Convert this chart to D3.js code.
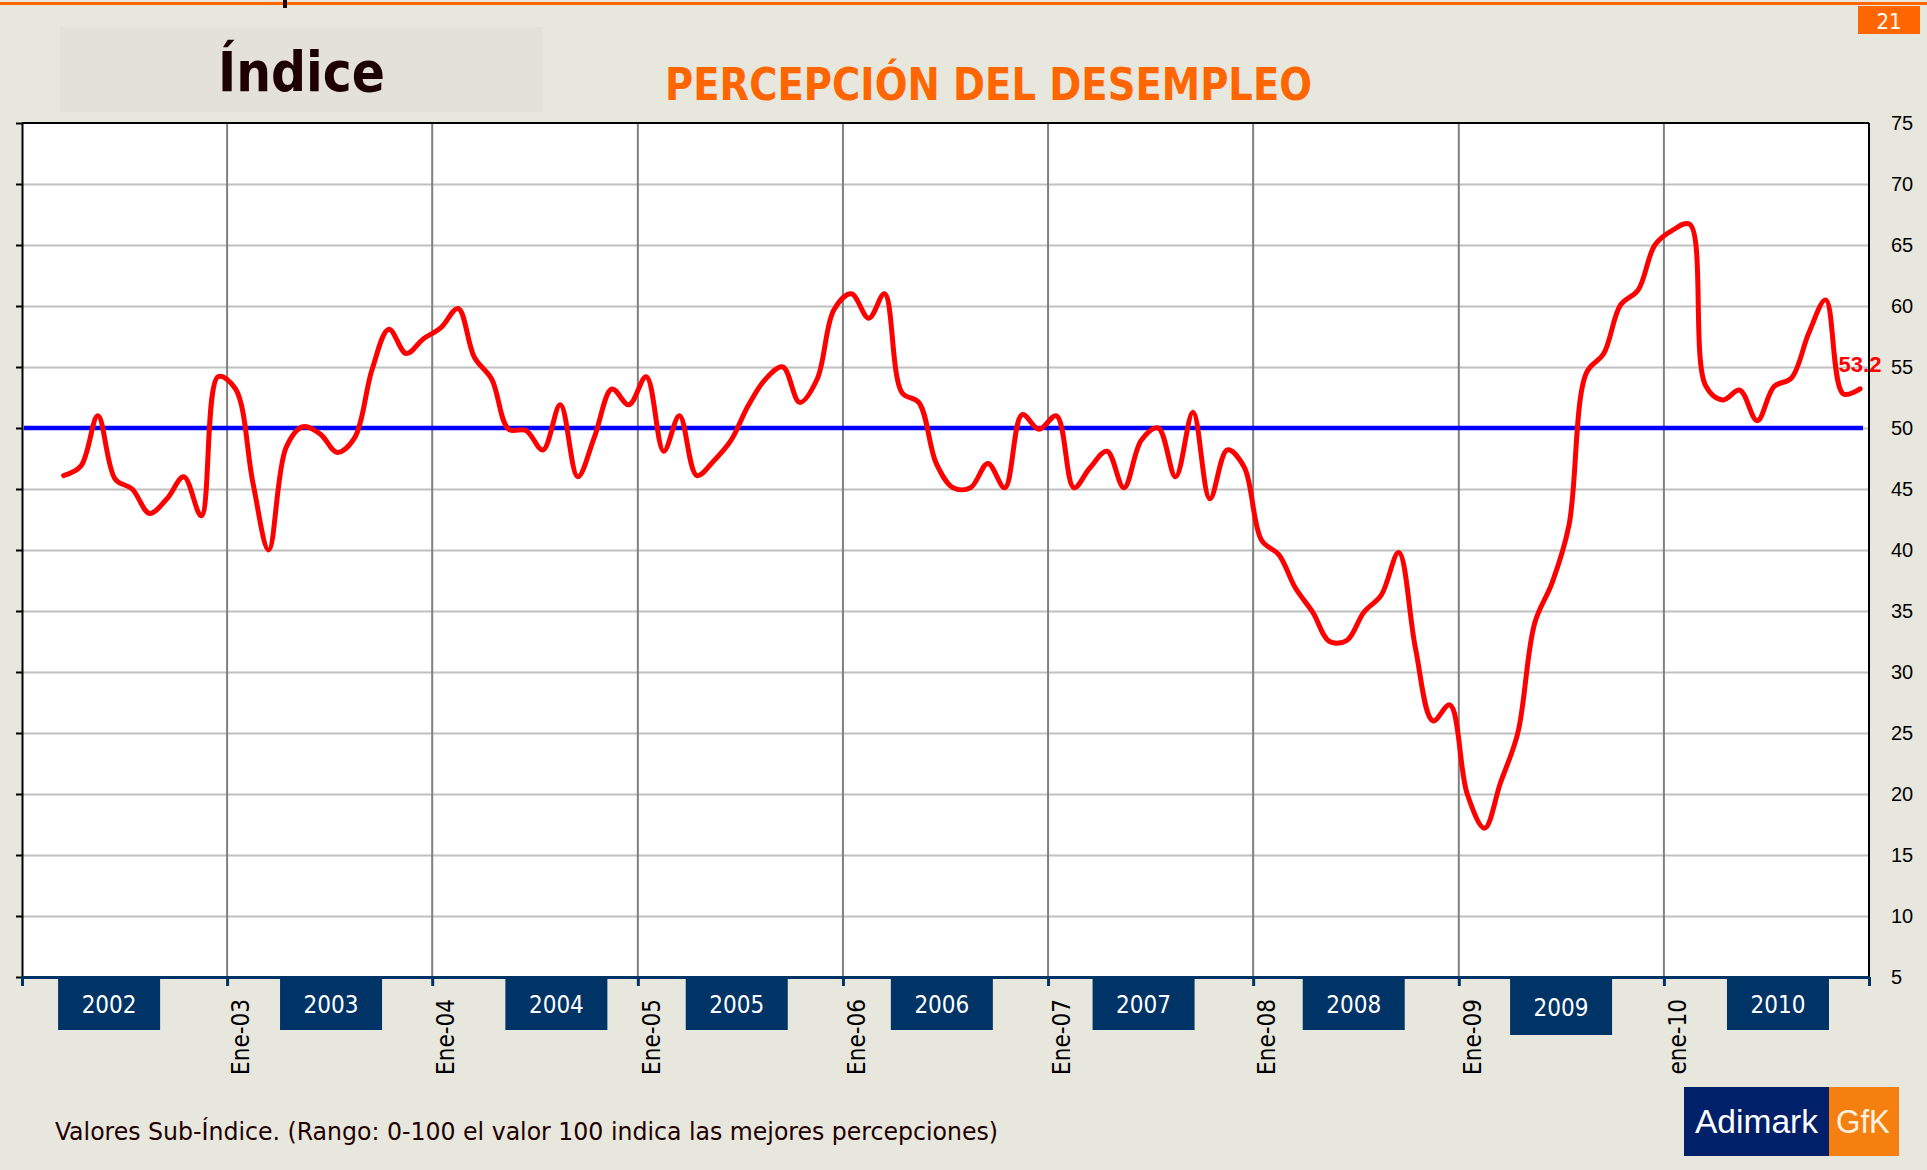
<!DOCTYPE html>
<html>
<head>
<meta charset="utf-8">
<script src="https://cdn.jsdelivr.net/npm/d3@7"></script>
<style>
    html, body { margin: 0; padding: 0; background: #e8e7de; }
    svg { display: block; }
</style>
</head>
<body>
<div id="chart"></div>
<script>
// Monthly sub-index values, Mar 2002 .. Dec 2010
const v2002 = [46.1, 46.9, 51.0, 45.8, 45.0, 43.0, 44.2, 46.0, 42.8, 54.2];   // Mar-Dec
const v2003 = [53.2, 45.5, 40.0, 48.4, 50.1, 49.5, 48.0, 49.2, 54.8, 58.1, 56.1, 57.3];
const v2004 = [58.2, 59.8, 55.8, 54.0, 49.9, 49.8, 48.2, 51.9, 46.0, 49.3, 53.2, 51.9];
const v2005 = [54.2, 48.1, 51.0, 46.1, 47.3, 49.0, 51.8, 54.0, 55.0, 52.1, 54.0, 59.7];
const v2006 = [61.0, 59.0, 61.0, 52.9, 52.1, 47.1, 45.1, 45.1, 47.1, 45.1, 51.1, 49.9];
const v2007 = [51.0, 45.1, 46.7, 48.1, 45.1, 49.0, 50.0, 46.0, 51.3, 44.2, 48.2, 46.8];
const v2008 = [40.8, 39.6, 36.9, 34.9, 32.5, 32.6, 34.9, 36.3, 39.8, 31.9, 26.0, 27.3];
const v2009 = [20.0, 17.2, 20.9, 25.0, 34.0, 37.3, 42.0, 54.5, 56.1, 60.1, 61.3, 65.0];
const v2010 = [66.2, 66.7, 53.5, 52.3, 53.1, 50.6, 53.4, 54.1, 57.8, 60.5, 52.8, 53.2];

const refValue = 50;   // neutral level (blue line)
const lastLabel = "53.2";

// tick labels under the year boundaries
const tickLabels = ["Ene-03", "Ene-04", "Ene-05", "Ene-06", "Ene-07", "Ene-08", "Ene-09", "ene-10"];
// year boxes and the month (inside the year) where each box is centred
const yearLabels = ["2002", "2003", "2004", "2005", "2006", "2007", "2008", "2009", "2010"];
const yearLabelMonth = [5.1, 6.1, 7.3, 5.8, 5.8, 5.6, 5.9, 6.0, 6.7];

const yTicks = d3.range(5, 76, 5);

// build dated series
const series = [];
[v2002, v2003, v2004, v2005, v2006, v2007, v2008, v2009, v2010].forEach((arr, yi) => {
    const startM = yi === 0 ? 2 : 0;
    arr.forEach((v, i) => series.push({ date: new Date(2002 + yi, startM + i, 16), value: v }));
});

const width = 1927, height = 1170;
const margin = { left: 22, right: 58, top: 123, bottom: 193 };
const navy = "#003366", orange = "#ff6600";

const svg = d3.select("#chart").append("svg")
    .attr("width", width)
    .attr("height", height);

svg.append("rect").attr("width", width).attr("height", height).attr("fill", "#e8e7de");

// top strip
svg.append("rect").attr("x", 0).attr("y", 2).attr("width", width).attr("height", 3).attr("fill", orange);
svg.append("rect").attr("x", 283).attr("y", 0).attr("width", 4).attr("height", 8).attr("fill", "#200000");
svg.append("rect").attr("x", 1858).attr("y", 6).attr("width", 62).attr("height", 28).attr("fill", orange);
svg.append("text")
    .attr("x", 1889).attr("y", 29)
    .attr("text-anchor", "middle")
    .attr("font-family", "'DejaVu Sans Condensed', 'DejaVu Sans', sans-serif")
    .attr("font-size", 22)
    .attr("fill", "white")
    .text("21");

// "Índice" box
svg.append("rect").attr("x", 60).attr("y", 27).attr("width", 482).attr("height", 85).attr("fill", "#e3e1da");
svg.append("text")
    .attr("x", 218).attr("y", 91)
    .attr("font-family", "'DejaVu Sans Condensed', 'DejaVu Sans', sans-serif")
    .attr("font-size", 56)
    .attr("font-weight", 700)
    .attr("fill", "#1f0000")
    .attr("textLength", 167)
    .attr("lengthAdjust", "spacingAndGlyphs")
    .text("Índice");

svg.append("text")
    .attr("x", 665).attr("y", 100)
    .attr("font-family", "'DejaVu Sans Condensed', 'DejaVu Sans', sans-serif")
    .attr("font-size", 44)
    .attr("font-weight", 700)
    .attr("fill", orange)
    .attr("textLength", 647)
    .attr("lengthAdjust", "spacingAndGlyphs")
    .text("PERCEPCIÓN DEL DESEMPLEO");

// scales
const x = d3.scaleTime()
    .domain([new Date(2002, 0, 1), new Date(2011, 0, 1)])
    .range([margin.left, width - margin.right]);
const y = d3.scaleLinear()
    .domain([5, 75])
    .range([height - margin.bottom, margin.top]);

const x0 = x.range()[0], x1 = x.range()[1];
const y0 = y.range()[0], y1 = y.range()[1];

// plot background
svg.append("rect")
    .attr("x", x0).attr("y", y1)
    .attr("width", x1 - x0).attr("height", y0 - y1)
    .attr("fill", "white");

// horizontal gridlines
svg.append("g")
    .attr("transform", `translate(${x0},0)`)
    .call(d3.axisLeft(y).tickValues(d3.range(10, 75, 5)).tickSize(-(x1 - x0)).tickFormat(""))
    .call(g => g.select(".domain").remove())
    .call(g => g.selectAll("line").attr("stroke", "#c0c0c0").attr("stroke-width", 2));

// vertical gridlines at year starts
const yearStarts = d3.timeYear.range(new Date(2003, 0, 1), new Date(2011, 0, 1));
svg.append("g")
    .selectAll("line")
    .data(yearStarts)
    .join("line")
    .attr("x1", d => x(d)).attr("x2", d => x(d))
    .attr("y1", y1).attr("y2", y0)
    .attr("stroke", "#808080")
    .attr("stroke-width", 2);

// frame: top, right, left axis
svg.append("line").attr("x1", x0).attr("x2", x1).attr("y1", y1).attr("y2", y1)
    .attr("stroke", "black").attr("stroke-width", 2);
svg.append("line").attr("x1", x1).attr("x2", x1).attr("y1", y1).attr("y2", y0)
    .attr("stroke", "black").attr("stroke-width", 2);

svg.append("g")
    .attr("transform", `translate(${x0},0)`)
    .call(d3.axisLeft(y).tickValues(yTicks).tickSize(6).tickSizeOuter(0).tickFormat(""))
    .call(g => g.selectAll("path, line").attr("stroke", "black").attr("stroke-width", 2));

// right value labels
svg.append("g")
    .attr("transform", `translate(${x1},0)`)
    .call(d3.axisRight(y).tickValues(yTicks).tickSize(0).tickPadding(22))
    .call(g => g.select(".domain").remove())
    .call(g => g.selectAll("text")
        .attr("font-family", "'Liberation Sans', Arial, sans-serif")
        .attr("font-size", 20)
        .attr("fill", "black"));

// year boxes under the axis
svg.append("g")
    .selectAll("rect")
    .data(yearLabels)
    .join("rect")
    .attr("x", (d, i) => x(new Date(2002 + i, 0, 1 + yearLabelMonth[i] * 30.4)) - 51)
    .attr("y", y0)
    .attr("width", 102)
    .attr("height", d => d === "2009" ? 58 : 53)
    .attr("fill", navy);

svg.append("g")
    .selectAll("text")
    .data(yearLabels)
    .join("text")
    .attr("x", (d, i) => x(new Date(2002 + i, 0, 1 + yearLabelMonth[i] * 30.4)))
    .attr("y", (d) => d === "2009" ? 1016 : 1013)
    .attr("text-anchor", "middle")
    .attr("font-family", "'DejaVu Sans Condensed', 'DejaVu Sans', sans-serif")
    .attr("font-size", 24)
    .attr("fill", "white")
    .text(d => d);

// bottom axis (navy) with ticks at each January
svg.append("g")
    .attr("transform", `translate(0,${y0})`)
    .call(d3.axisBottom(x).ticks(d3.timeYear.every(1)).tickSize(9).tickSizeOuter(0).tickFormat(""))
    .call(g => g.selectAll("path, line").attr("stroke", navy).attr("stroke-width", 3));

// rotated month labels
svg.append("g")
    .selectAll("text")
    .data(tickLabels)
    .join("text")
    .attr("transform", (d, i) => `translate(${x(yearStarts[i]) + 22},${y0 + 22}) rotate(-90)`)
    .attr("text-anchor", "end")
    .attr("font-family", "'DejaVu Sans Condensed', 'DejaVu Sans', sans-serif")
    .attr("font-size", 24)
    .attr("fill", "black")
    .text(d => d);

// reference line at 50
const lastDate = series[series.length - 1].date;
svg.append("line")
    .attr("x1", x0 + 2).attr("x2", x(lastDate) + 3)
    .attr("y1", y(refValue)).attr("y2", y(refValue))
    .attr("stroke", "#0000ff")
    .attr("stroke-width", 4.5);

// index line
svg.append("path")
    .datum(series)
    .attr("fill", "none")
    .attr("stroke", "#ff0000")
    .attr("stroke-width", 5)
    .attr("stroke-linejoin", "round")
    .attr("stroke-linecap", "round")
    .attr("d", d3.line()
        .x(d => x(d.date))
        .y(d => y(d.value))
        .curve(d3.curveCatmullRom.alpha(0.5)));

const last = series[series.length - 1];
svg.append("text")
    .attr("x", x(last.date))
    .attr("y", y(last.value) - 17)
    .attr("text-anchor", "middle")
    .attr("font-family", "'Liberation Sans', Arial, sans-serif")
    .attr("font-size", 22)
    .attr("font-weight", 700)
    .attr("fill", "#ff0000")
    .text(lastLabel);

// footer note
svg.append("text")
    .attr("x", 55).attr("y", 1140)
    .attr("font-family", "'DejaVu Sans Condensed', 'DejaVu Sans', sans-serif")
    .attr("font-size", 24)
    .attr("fill", "#200000")
    .attr("textLength", 943)
    .attr("lengthAdjust", "spacingAndGlyphs")
    .text("Valores Sub-Índice. (Rango: 0-100 el valor 100 indica las mejores percepciones)");

// logo
svg.append("rect").attr("x", 1684).attr("y", 1087).attr("width", 145).attr("height", 69).attr("fill", "#00206a");
svg.append("rect").attr("x", 1829).attr("y", 1087).attr("width", 70).attr("height", 69).attr("fill", "#f5800f");
svg.append("text")
    .attr("x", 1695).attr("y", 1133)
    .attr("font-family", "'Liberation Sans', Arial, sans-serif")
    .attr("font-size", 34)
    .attr("fill", "white")
    .attr("textLength", 123)
    .attr("lengthAdjust", "spacingAndGlyphs")
    .text("Adimark");
svg.append("text")
    .attr("x", 1836).attr("y", 1133)
    .attr("font-family", "'Liberation Sans', Arial, sans-serif")
    .attr("font-size", 34)
    .attr("fill", "#fbf2e2")
    .attr("textLength", 54)
    .attr("lengthAdjust", "spacingAndGlyphs")
    .text("GfK");
</script>
</body>
</html>
